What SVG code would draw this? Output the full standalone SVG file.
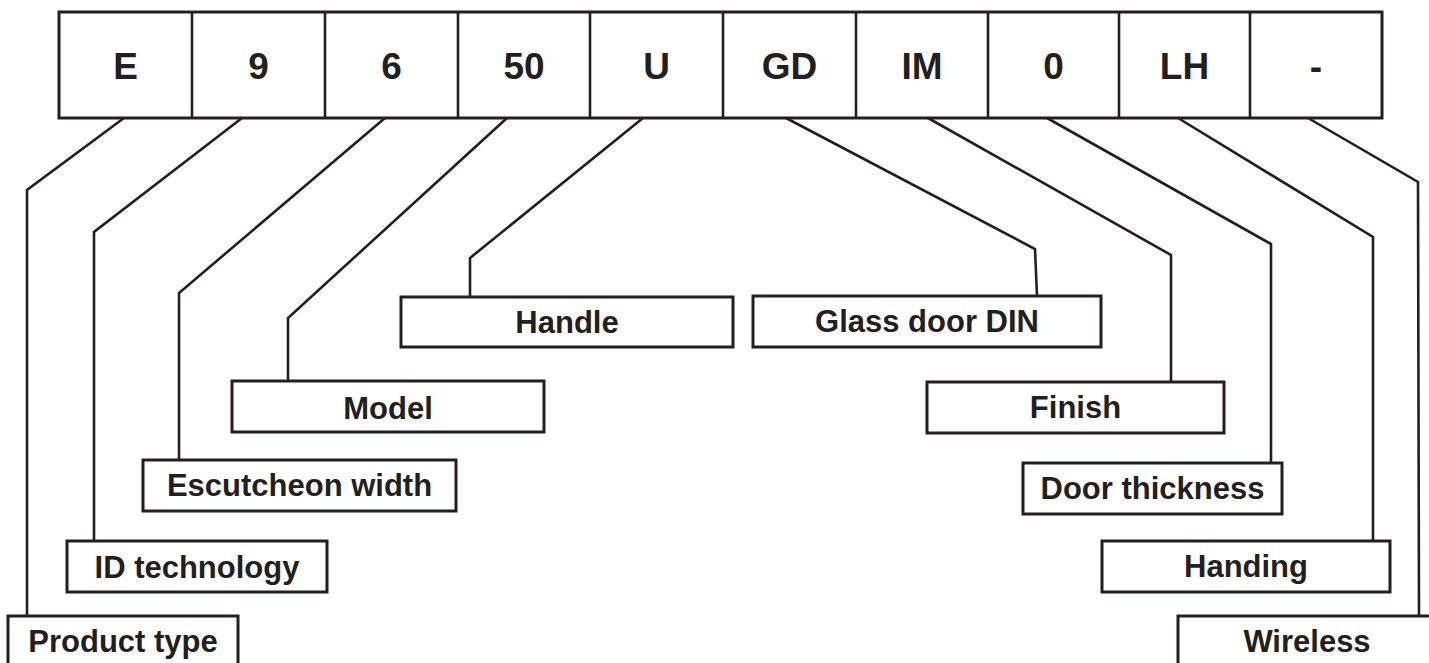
<svg xmlns="http://www.w3.org/2000/svg" width="1429" height="663" viewBox="0 0 1429 663">
<style>
.bx{fill:#fff;stroke:#231f20;stroke-width:3}
.ln{fill:none;stroke:#231f20;stroke-width:2.6;stroke-linejoin:miter}
.code{font-family:"Liberation Sans",Arial,sans-serif;font-weight:bold;font-size:37px;fill:#231f20;text-anchor:middle}
.lbl{font-family:"Liberation Sans",Arial,sans-serif;font-weight:bold;font-size:31px;fill:#231f20;text-anchor:middle}
</style>
<rect width="1429" height="663" fill="#fff"/>
<g id="code-row">
<rect class="bx" x="59" y="12" width="1323" height="106"/>
<g class="ln">
<line x1="192" y1="12" x2="192" y2="118"/>
<line x1="325" y1="12" x2="325" y2="118"/>
<line x1="458" y1="12" x2="458" y2="118"/>
<line x1="590" y1="12" x2="590" y2="118"/>
<line x1="723" y1="12" x2="723" y2="118"/>
<line x1="856" y1="12" x2="856" y2="118"/>
<line x1="988" y1="12" x2="988" y2="118"/>
<line x1="1119" y1="12" x2="1119" y2="118"/>
<line x1="1250" y1="12" x2="1250" y2="118"/>
</g>
<text class="code" x="125.5" y="79">E</text>
<text class="code" x="258.5" y="79">9</text>
<text class="code" x="391.5" y="79">6</text>
<text class="code" x="524" y="79">50</text>
<text class="code" x="656.5" y="79">U</text>
<text class="code" x="789.5" y="79">GD</text>
<text class="code" x="922" y="79">IM</text>
<text class="code" x="1053.5" y="79">0</text>
<text class="code" x="1184.5" y="79">LH</text>
<text class="code" x="1316" y="79">-</text>
</g>
<g id="connectors" class="ln">
<polyline points="124,118 27,190 27,616"/>
<polyline points="242,118 94,232 94,541"/>
<polyline points="385,118 179,293 179,460"/>
<polyline points="507,118 288,318 288,381"/>
<polyline points="643,118 470,258 470,297"/>
<polyline points="786,118 1035,249 1037,296"/>
<polyline points="928,118 1171,255 1171,382"/>
<polyline points="1047,118 1271,244 1271,463"/>
<polyline points="1178,118 1373,237 1373,541"/>
<polyline points="1308,118 1418,182 1419,616"/>
</g>
<g id="product-type"><rect class="bx" x="8" y="616" width="230" height="60"/><text class="lbl" x="123" y="652">Product type</text></g>
<g id="id-technology"><rect class="bx" x="67" y="541" width="260" height="51"/><text class="lbl" x="197" y="578">ID technology</text></g>
<g id="escutcheon-width"><rect class="bx" x="143" y="460" width="313" height="51"/><text class="lbl" x="299.5" y="496">Escutcheon width</text></g>
<g id="model"><rect class="bx" x="232" y="381" width="312" height="51"/><text class="lbl" x="388" y="419">Model</text></g>
<g id="handle"><rect class="bx" x="401" y="297" width="332" height="50"/><text class="lbl" x="567" y="333">Handle</text></g>
<g id="glass-door-din"><rect class="bx" x="753" y="296" width="348" height="51"/><text class="lbl" x="927" y="332">Glass door DIN</text></g>
<g id="finish"><rect class="bx" x="927" y="382" width="297" height="51"/><text class="lbl" x="1075.5" y="418">Finish</text></g>
<g id="door-thickness"><rect class="bx" x="1023" y="463" width="259" height="51"/><text class="lbl" x="1152.5" y="499">Door thickness</text></g>
<g id="handing"><rect class="bx" x="1102" y="541" width="288" height="51"/><text class="lbl" x="1246" y="577">Handing</text></g>
<g id="wireless"><rect class="bx" x="1178" y="616" width="258" height="60"/><text class="lbl" x="1307" y="652">Wireless</text></g>
</svg>
